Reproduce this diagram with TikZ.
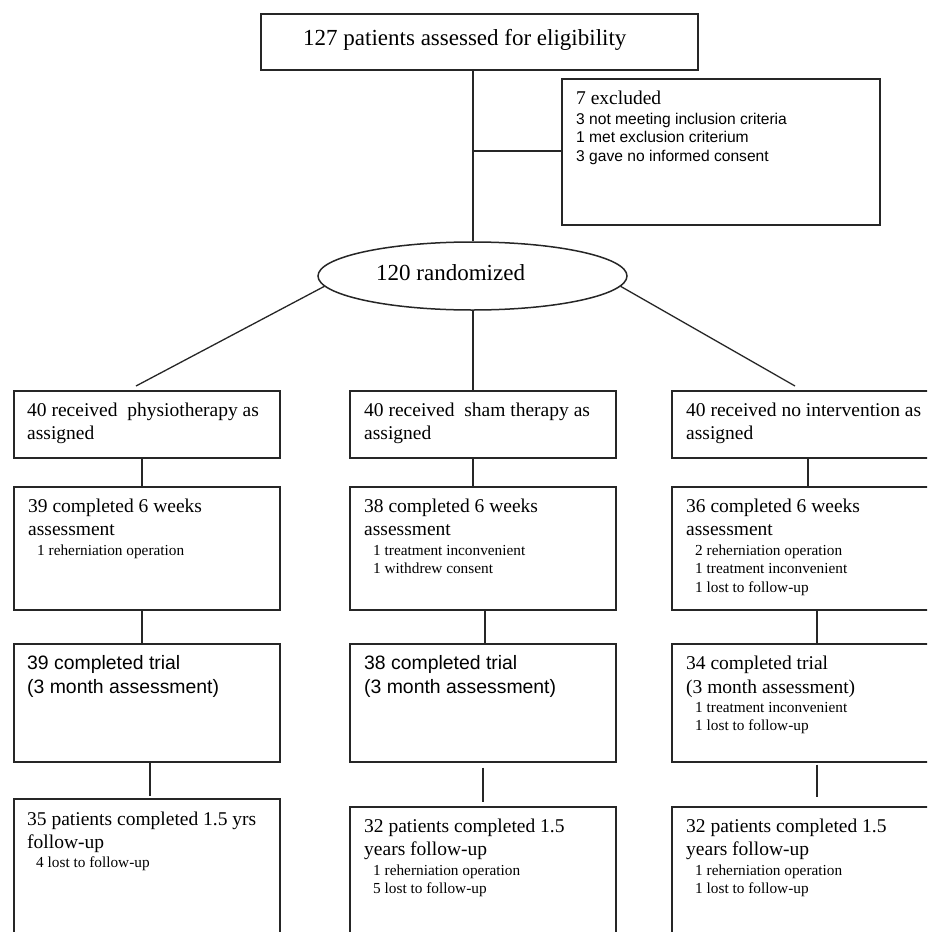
\documentclass[tikz,border=0pt]{standalone}
\usepackage{fontspec}
\setmainfont{Liberation Serif}
\newfontfamily\arialf{Liberation Sans}
\usetikzlibrary{shapes.geometric}
\newcommand\mainf{\fontsize{19.5}{23}\selectfont}
\newcommand\subf{\fontsize{15.3}{18.5}\selectfont}
\newcommand\sansm{\arialf\fontsize{19.4}{24}\selectfont}
\newcommand\exsub{\arialf\fontsize{15.6}{18.7}\selectfont}
\newcommand\ind{\hspace*{9pt}}
\begin{document}
\begin{tikzpicture}[x=1pt,y=-1pt,
  box/.style={draw=black!85, line width=1.5pt, rectangle, inner sep=0pt, anchor=north west},
  conn/.style={draw=black!85, line width=1.3pt},
  txt/.style={inner sep=0pt, anchor=base west}]
\useasboundingbox (0,0) rectangle (927,932);
\clip (0,0) rectangle (927,932);
% top
\node[box, minimum width=437pt, minimum height=56pt] (top) at (260,13) {};
\node[txt, font=\fontsize{23}{27}\selectfont] (ttop) at (303,45) {127 patients assessed for eligibility};
% excluded
\node[box, minimum width=318pt, minimum height=146pt] (exc) at (561,78) {};
\node[txt] (texc) at (576,104) {\parbox[t]{300pt}{\mainf 7 excluded\par\vspace{1.3pt}\exsub 3 not meeting inclusion criteria\\1 met exclusion criterium\\3 gave no informed consent\par}};
% ellipse
\node[draw=black!85, line width=1.5pt, ellipse, minimum width=309pt, minimum height=68pt, inner sep=0pt] (ell) at (472.5,276) {};
\node[txt, font=\fontsize{23}{27}\selectfont] (tell) at (376,280) {120 randomized};
% row 1
\node[box, minimum width=266pt, minimum height=67pt] (r1a) at (13,390) {};
\node[box, minimum width=266pt, minimum height=67pt] (r1b) at (349,390) {};
\node[box, minimum width=266pt, minimum height=67pt] (r1c) at (671,390) {};
\node[txt] (t1a) at (27,416) {\parbox[t]{260pt}{\mainf 40 received~ physiotherapy as\\assigned}};
\node[txt] (t1b) at (364,416) {\parbox[t]{260pt}{\mainf 40 received~ sham therapy as\\assigned}};
\node[txt] (t1c) at (686,416) {\parbox[t]{260pt}{\mainf 40 received no intervention as\\assigned}};
% row 2
\node[box, minimum width=266pt, minimum height=123pt] (r2a) at (13,486) {};
\node[box, minimum width=266pt, minimum height=123pt] (r2b) at (349,486) {};
\node[box, minimum width=266pt, minimum height=123pt] (r2c) at (671,486) {};
\node[txt] (t2a) at (28,512) {\parbox[t]{260pt}{\mainf 39 completed 6 weeks\\assessment\par\vspace{1.5pt}\subf\ind 1 reherniation operation\par}};
\node[txt] (t2b) at (364,512) {\parbox[t]{260pt}{\mainf 38 completed 6 weeks\\assessment\par\vspace{1.5pt}\subf\ind 1 treatment inconvenient\\\ind 1 withdrew consent\par}};
\node[txt] (t2c) at (686,512) {\parbox[t]{260pt}{\mainf 36 completed 6 weeks\\assessment\par\vspace{1.5pt}\subf\ind 2 reherniation operation\\\ind 1 treatment inconvenient\\\ind 1 lost to follow-up\par}};
% row 3
\node[box, minimum width=266pt, minimum height=118pt] (r3a) at (13,643) {};
\node[box, minimum width=266pt, minimum height=118pt] (r3b) at (349,643) {};
\node[box, minimum width=266pt, minimum height=118pt] (r3c) at (671,643) {};
\node[txt] (t3a) at (27,669) {\parbox[t]{260pt}{\sansm 39 completed trial\\(3 month assessment)}};
\node[txt] (t3b) at (364,669) {\parbox[t]{260pt}{\sansm 38 completed trial\\(3 month assessment)}};
\node[txt] (t3c) at (686,669) {\parbox[t]{260pt}{\mainf\baselineskip=24pt 34 completed trial\\(3 month assessment)\par\vspace{0.5pt}\subf\ind 1 treatment inconvenient\\\ind 1 lost to follow-up\par}};
% row 4
\node[box, minimum width=266pt, minimum height=160pt] (r4a) at (13,798) {};
\node[box, minimum width=266pt, minimum height=160pt] (r4b) at (349,806) {};
\node[box, minimum width=266pt, minimum height=160pt] (r4c) at (671,806) {};
\node[txt] (t4a) at (27,825) {\parbox[t]{260pt}{\mainf 35 patients completed 1.5 yrs\\follow-up\par\vspace{0.5pt}\subf\ind 4 lost to follow-up\par}};
\node[txt] (t4b) at (364,832) {\parbox[t]{260pt}{\mainf 32 patients completed 1.5\\years follow-up\par\vspace{1.5pt}\subf\ind 1 reherniation operation\\\ind 5 lost to follow-up\par}};
\node[txt] (t4c) at (686,832) {\parbox[t]{260pt}{\mainf 32 patients completed 1.5\\years follow-up\par\vspace{1.5pt}\subf\ind 1 reherniation operation\\\ind 1 lost to follow-up\par}};
% connectors top
\draw[conn] (top.south -| 473,0) -- (ell.north -| 473,0);
\draw[conn] (exc.west |- 473,151) -- (473,151);
\coordinate (la) at (136,386);
\coordinate (ra) at (795,386);
\draw[conn] (ell.184) -- (la);
\draw[conn] (ell.356) -- (ra);
\draw[conn] (ell.south -| 473,0) -- (r1b.north -| 473,0);
% column A
\draw[conn] (r1a.south -| 142,0) -- (r2a.north -| 142,0);
\draw[conn] (r2a.south -| 142,0) -- (r3a.north -| 142,0);
\draw[conn, shorten >=2pt] (r3a.south -| 150,0) -- (r4a.north -| 150,0);
% column B
\draw[conn] (r1b.south -| 473,0) -- (r2b.north -| 473,0);
\draw[conn] (r2b.south -| 485,0) -- (r3b.north -| 485,0);
\draw[conn, shorten <=5pt, shorten >=4pt] (r3b.south -| 483,0) -- (r4b.north -| 483,0);
% column C
\draw[conn] (r1c.south -| 808,0) -- (r2c.north -| 808,0);
\draw[conn] (r2c.south -| 817,0) -- (r3c.north -| 817,0);
\draw[conn, shorten <=2pt, shorten >=9pt] (r3c.south -| 817,0) -- (r4c.north -| 817,0);
\end{tikzpicture}
\end{document}
